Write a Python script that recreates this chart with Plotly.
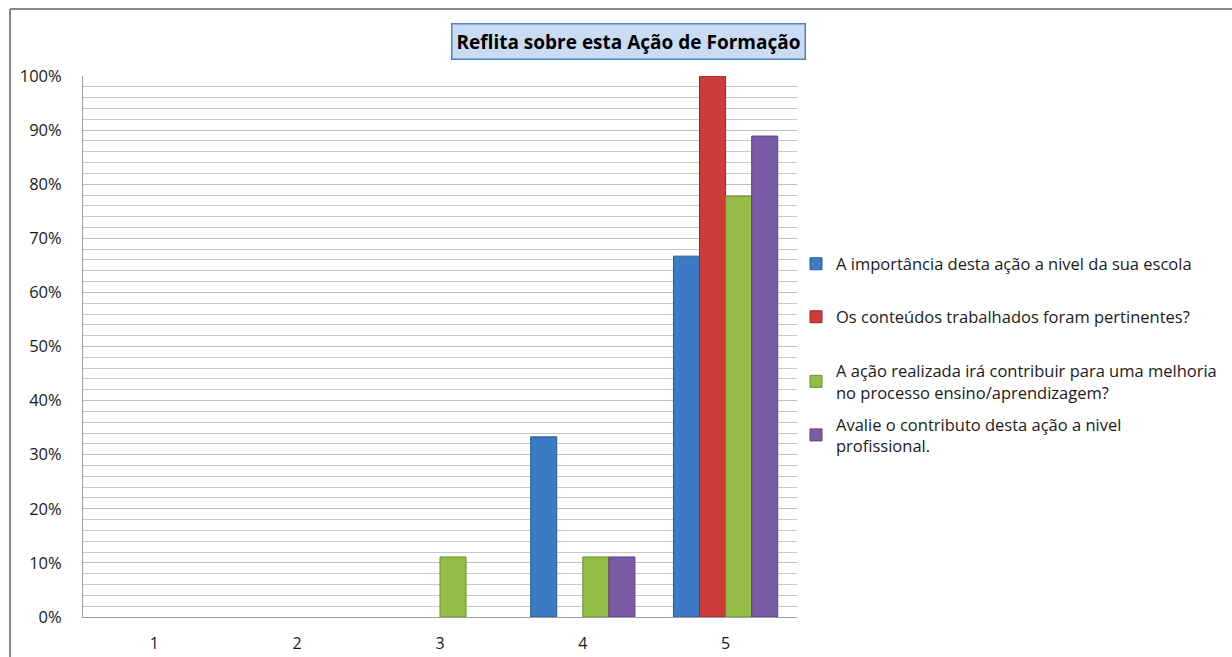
import plotly.graph_objects as go

categories = ["1", "2", "3", "4", "5"]
series_names = [
    "A importância desta ação a nivel da sua escola",
    "Os conteúdos trabalhados foram pertinentes?",
    "A ação realizada irá contribuir para uma melhoria<br>no processo ensino/aprendizagem?",
    "Avalie o contributo desta ação a nivel<br>profissional.",
]
importancia = [0, 0, 0, 33.3, 66.7]
conteudos = [0, 0, 0, 0, 100]
melhoria = [0, 0, 11.1, 11.1, 77.8]
profissional = [0, 0, 0, 11.1, 88.9]
values = [importancia, conteudos, melhoria, profissional]
colors = ["#3B7BC4", "#CC3C3B", "#94BD45", "#7A5BA5"]
edges = ["#2A5A92", "#952A2A", "#6E8E31", "#5A427C"]
legend_y = [0.6525, 0.5545, 0.4355, 0.3365]

L, R, T, B = 83, 797, 76, 617
W, H = 1232, 657
pw, ph = R - L, B - T

fig = go.Figure()
for i, (name, vals) in enumerate(zip(series_names, values)):
    lg = "legend" if i == 0 else f"legend{i+1}"
    fig.add_trace(go.Bar(
        x=categories, y=[v if v else None for v in vals], name=name,
        marker=dict(color=colors[i], line=dict(color=edges[i], width=1)),
        legend=lg,
    ))

font_family = "'Open Sans', sans-serif"
leg_x = (796 - L) / pw
layout_legends = {}
for i in range(4):
    key = "legend" if i == 0 else f"legend{i+1}"
    layout_legends[key] = dict(
        x=leg_x, y=legend_y[i], xanchor="left", yanchor="middle",
        font=dict(family=font_family, size=16.5, color="#1a1a1a"),
        bgcolor="rgba(0,0,0,0)", itemwidth=30,
    )

fig.update_layout(
    width=W, height=H,
    margin=dict(l=L, r=W - R, t=T, b=H - B, pad=0, autoexpand=False),
    paper_bgcolor="white", plot_bgcolor="white",
    barmode="group", bargap=0.27, bargroupgap=0,
    showlegend=True,
    font=dict(family=font_family, size=16, color="#1a1a1a"),
    xaxis=dict(
        showgrid=False, showline=True, linecolor="#a0a0a0", linewidth=1,
        ticks="", tickfont=dict(size=16), ticklabelstandoff=12,
        automargin=False,
    ),
    yaxis=dict(
        range=[0, 100], tickvals=list(range(0, 101, 10)),
        ticktext=[f"{v}%" for v in range(0, 101, 10)],
        showgrid=True, gridcolor="#bfbfbf", gridwidth=1,
        minor=dict(dtick=2, showgrid=True, gridcolor="#c8c8c8", gridwidth=1),
        showline=True, linecolor="#a0a0a0", linewidth=1,
        ticks="", tickfont=dict(size=16.5), ticklabelstandoff=17,
        zeroline=False, automargin=False,
    ),
    **layout_legends,
)

fig.add_annotation(
    text="<b>Reflita sobre esta Ação de Formação</b>",
    xref="paper", yref="paper",
    x=(628 - L) / pw, y=(B - 41) / ph, xanchor="center", yanchor="middle",
    showarrow=False,
    font=dict(family=font_family, size=19, color="#000000"),
    bgcolor="#C9DCF3", bordercolor="#4F81BD", borderwidth=1.5, borderpad=4,
)

# outer chart border (left and top only)
fig.add_shape(type="line", xref="paper", yref="paper",
              x0=(10 - L) / pw, x1=(10 - L) / pw, y0=(B - 9) / ph, y1=(B - H) / ph,
              line=dict(color="#8a8a8a", width=2))
fig.add_shape(type="line", xref="paper", yref="paper",
              x0=(10 - L) / pw, x1=(W - L) / pw, y0=(B - 9) / ph, y1=(B - 9) / ph,
              line=dict(color="#8a8a8a", width=2))

fig.write_html("out.html", config={"displayModeBar": False})
with open("out.html", encoding="utf-8") as f:
    html = f.read()
html = html.replace("<head>", "<head><style>html,body{margin:0;padding:0;overflow:hidden}</style>", 1)
with open("out.html", "w", encoding="utf-8") as f:
    f.write(html)
